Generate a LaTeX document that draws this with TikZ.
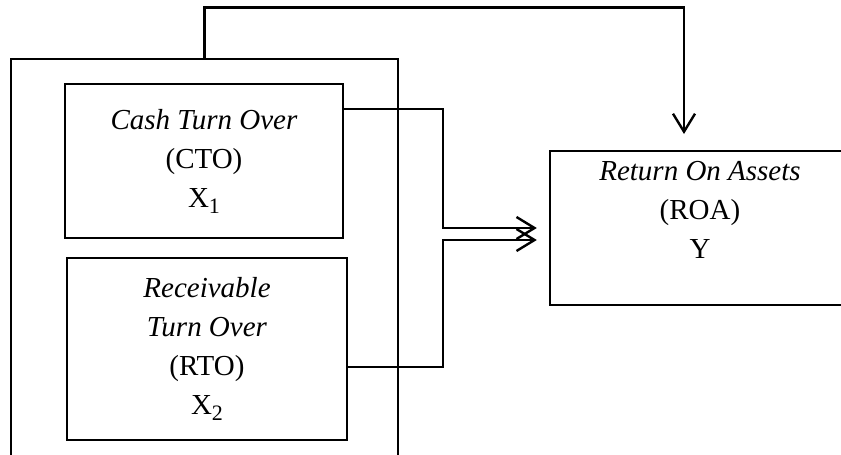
\documentclass[tikz,border=0pt]{standalone}
\usepackage{fontspec}
\setmainfont{Liberation Serif}
\usetikzlibrary{arrows.meta}
\newcommand{\idx}[1]{\raisebox{-0.45ex}{\fontsize{11}{11}\selectfont #1}}
\tikzset{
  box/.style={draw, line width=1.2pt, align=center, inner sep=0pt},
  flow/.style={line width=1.2pt, -{Straight Barb[length=9pt,width=11pt,line width=1.2pt]}},
}
\begin{document}
\begin{tikzpicture}[x=0.5pt, y=-0.5pt, font=\fontsize{14.5}{19.5}\selectfont]
\useasboundingbox (0,0) rectangle (841,455);
\clip (0,0) rectangle (841,455);
% frame round the two independent variables
\node[draw, line width=0.6pt, minimum width=193.5pt, minimum height=205.5pt] (frame) at (204.5,264.5) {};
\node[box, minimum width=139pt, minimum height=77pt] (cto) at (204,161)
  {\textit{Cash Turn Over}\\(CTO)\\X\idx{1}};
\node[box, minimum width=140pt, minimum height=91pt] (rto) at (207,349)
  {\textit{Receivable}\\\textit{Turn Over}\\(RTO)\\X\idx{2}};
\node[box, minimum width=150pt, minimum height=77pt] (roa) at (700,228) {};
\node[align=center, inner sep=0pt] (roatext) at ([yshift=9pt]roa.center)
  {\textit{Return On Assets}\\(ROA)\\Y};
\coordinate (drop) at (684,151);
\draw[flow, shorten >=8.5pt] (frame.north) -- ++(0,-51) -| (drop);
\draw[flow, shorten >=6pt] ([yshift=-13pt]cto.north east) -- ++(99,0) |- (roa.west);
\draw[flow, shorten >=6pt] ([yshift=-9pt]rto.east) -- ++(95,0) |- ([yshift=-6pt]roa.west);
\end{tikzpicture}
\end{document}
